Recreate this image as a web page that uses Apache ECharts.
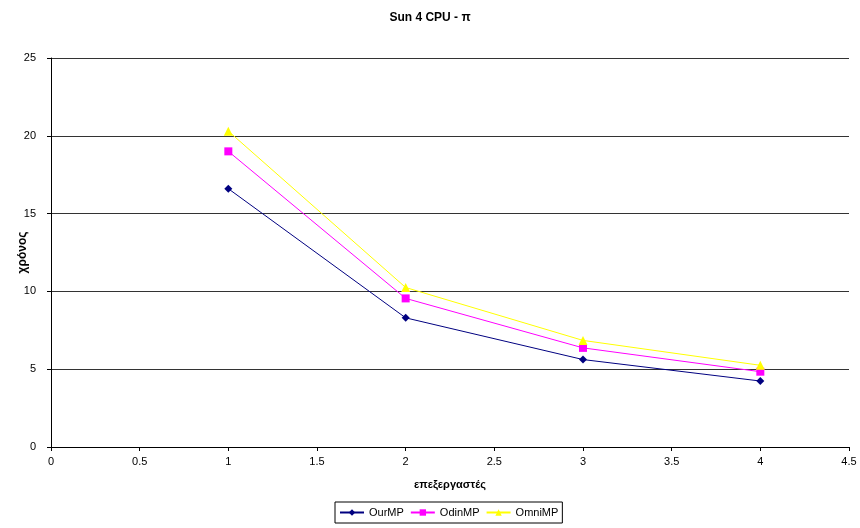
<!DOCTYPE html>
<html>
<head>
<meta charset="UTF-8">
<script src="https://cdn.jsdelivr.net/npm/echarts@6/dist/echarts.min.js"></script>
<style>
html, body { margin: 0; padding: 0; background: #fff; }
#main { width: 860px; height: 528px; }
</style>
</head>
<body>
<div id="main"></div>
<script>
var processors = [1, 2, 3, 4];
var ourMP = [16.6, 8.3, 5.62, 4.24];
var odinMP = [19.0, 9.55, 6.37, 4.84];
var omniMP = [20.3, 10.25, 6.85, 5.25];

function pairs(ys) {
    return processors.map(function (x, i) { return [x, ys[i]]; });
}

var font = 'Liberation Sans, Arial, sans-serif';

echarts.init(document.getElementById('main')).setOption({
    animation: false,
    title: {
        text: 'Sun 4 CPU - π',
        left: 'center',
        top: 7,
        textStyle: { fontFamily: font, fontSize: 12, fontWeight: 'bold', color: '#000' }
    },
    grid: { left: 51, right: 11, top: 58, bottom: 81, outerBoundsMode: 'none', containLabel: false },
    legend: {
        bottom: 5,
        left: 335,
        itemWidth: 24,
        itemHeight: 8,
        itemGap: 6,
        padding: [5, 4],
        borderColor: '#000',
        borderWidth: 1,
        textStyle: { fontFamily: font, fontSize: 11, color: '#000' },
        data: ['OurMP', 'OdinMP', 'OmniMP']
    },
    xAxis: {
        type: 'value',
        min: 0, max: 4.5, interval: 0.5,
        name: 'επεξεργαστές',
        nameLocation: 'middle',
        nameGap: 32,
        nameTextStyle: { fontFamily: font, fontSize: 11, fontWeight: 'bold', color: '#000' },
        axisLine: { lineStyle: { color: '#000' } },
        axisTick: { inside: false, length: 4, lineStyle: { color: '#000' } },
        axisLabel: { fontFamily: font, fontSize: 11, color: '#000', margin: 9 },
        splitLine: { show: false }
    },
    yAxis: {
        type: 'value',
        min: 0, max: 25, interval: 5,
        name: 'χρόνος',
        nameLocation: 'middle',
        nameGap: 22,
        nameMoveOverlap: false,
        nameTextStyle: { fontFamily: font, fontSize: 12, fontWeight: 'bold', color: '#000' },
        axisLine: { show: true, lineStyle: { color: '#000' } },
        axisTick: { show: true, length: 4, lineStyle: { color: '#000' } },
        axisLabel: { fontFamily: font, fontSize: 11, color: '#000', margin: 15 },
        splitLine: { show: true, lineStyle: { color: '#333', width: 1 } }
    },
    series: [
        {
            name: 'OurMP', type: 'line', data: pairs(ourMP),
            symbol: 'diamond', symbolSize: 8,
            itemStyle: { color: '#000080' }, lineStyle: { color: '#000080', width: 1 }
        },
        {
            name: 'OdinMP', type: 'line', data: pairs(odinMP),
            symbol: 'rect', symbolSize: 8,
            itemStyle: { color: '#ff00ff' }, lineStyle: { color: '#ff00ff', width: 1 }
        },
        {
            name: 'OmniMP', type: 'line', data: pairs(omniMP),
            symbol: 'triangle', symbolSize: 9,
            itemStyle: { color: '#ffff00' }, lineStyle: { color: '#ffff00', width: 1 }
        }
    ]
});
</script>
</body>
</html>
